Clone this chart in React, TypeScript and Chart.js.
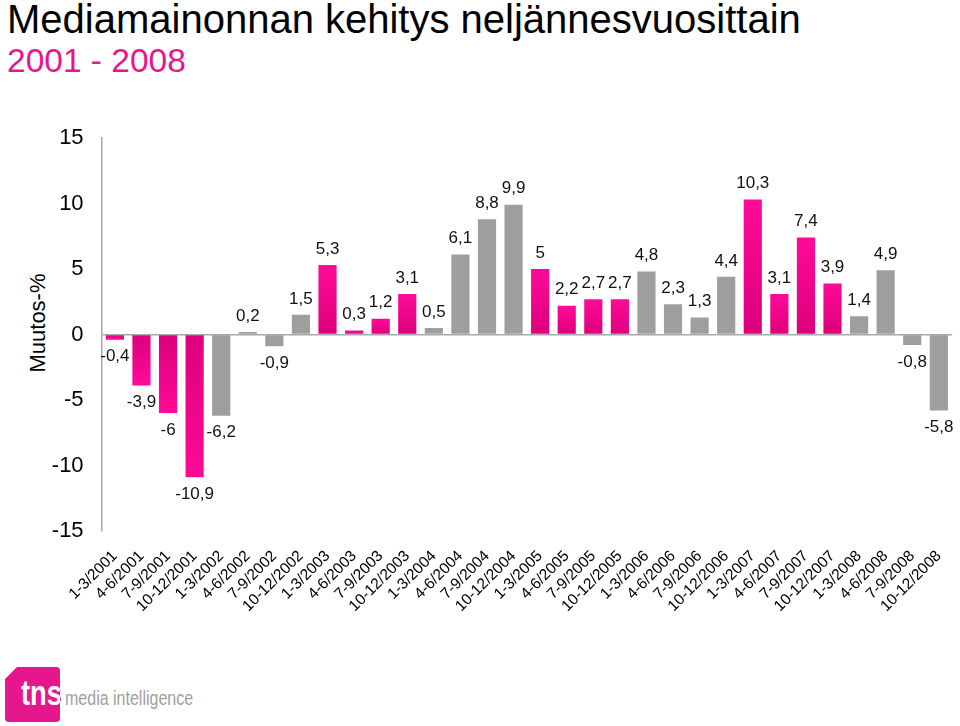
import React, { useEffect, useRef } from "react";
import { Chart, registerables } from "chart.js";

Chart.register(...registerables);

const categories = [
  "1-3/2001", "4-6/2001", "7-9/2001", "10-12/2001",
  "1-3/2002", "4-6/2002", "7-9/2002", "10-12/2002",
  "1-3/2003", "4-6/2003", "7-9/2003", "10-12/2003",
  "1-3/2004", "4-6/2004", "7-9/2004", "10-12/2004",
  "1-3/2005", "4-6/2005", "7-9/2005", "10-12/2005",
  "1-3/2006", "4-6/2006", "7-9/2006", "10-12/2006",
  "1-3/2007", "4-6/2007", "7-9/2007", "10-12/2007",
  "1-3/2008", "4-6/2008", "7-9/2008", "10-12/2008",
];

const values = [
  -0.4, -3.9, -6, -10.9,
  -6.2, 0.2, -0.9, 1.5,
  5.3, 0.3, 1.2, 3.1,
  0.5, 6.1, 8.8, 9.9,
  5, 2.2, 2.7, 2.7,
  4.8, 2.3, 1.3, 4.4,
  10.3, 3.1, 7.4, 3.9,
  1.4, 4.9, -0.8, -5.8,
];

// true = pink year, false = grey year
const pinkYears = [true, false, true, false, true, false, true, false];

const yTicks = [-15, -10, -5, 0, 5, 10, 15];

const FONT = "'Liberation Sans', Arial, Helvetica, sans-serif";
const GREY = "#9e9e9e";
const AXIS = "#a8a8a8";

export default function App() {
  const canvasRef = useRef<HTMLCanvasElement | null>(null);

  useEffect(() => {
    if (!canvasRef.current) return;

    const labelPlugin = {
      id: "valueLabels",
      afterDatasetsDraw(chart: any) {
        const ctx = chart.ctx;
        const meta = chart.getDatasetMeta(0);
        ctx.save();
        ctx.font = `17px ${FONT}`;
        ctx.fillStyle = "#111";
        ctx.textAlign = "center";
        ctx.textBaseline = "middle";
        meta.data.forEach((bar: any, i: number) => {
          const v = values[i];
          const txt = String(v).replace(".", ",");
          const y = v >= 0 ? bar.y - 16 : bar.y + 17;
          ctx.fillText(txt, bar.x, y);
        });
        ctx.restore();
      },
    };

    const chart = new Chart(canvasRef.current, {
      type: "bar",
      data: {
        labels: categories,
        datasets: [
          {
            data: values,
            categoryPercentage: 1,
            barPercentage: 0.684,
            backgroundColor: (c: any) => {
              const i = c.dataIndex;
              const pink = pinkYears[Math.floor(i / 4)];
              if (!pink) return GREY;
              const ch = c.chart;
              const ys = ch.scales && ch.scales.y;
              if (!ys || c.parsed === undefined) return "#ee0a8c";
              const v = values[i];
              const y0 = ys.getPixelForValue(0);
              const y1 = ys.getPixelForValue(v);
              if (!isFinite(y0) || !isFinite(y1) || y0 === y1) return "#ee0a8c";
              const g = ch.ctx.createLinearGradient(0, y1, 0, y0);
              g.addColorStop(0, "#ff0a98");
              g.addColorStop(1, "#dc007c");
              return g;
            },
            borderWidth: 0,
          },
        ],
      },
      options: {
        responsive: false,
        animation: false,
        layout: { padding: { top: 38, right: 1.6, left: 0, bottom: 0 } },
        plugins: {
          legend: { display: false },
          tooltip: { enabled: false },
          title: { display: false },
        },
        scales: {
          x: {
            grid: { display: false },
            border: { display: false },
            ticks: {
              autoSkip: false,
              maxRotation: 45,
              minRotation: 45,
              padding: 8,
              color: "#000",
              font: { family: FONT, size: 15.5 },
            },
            afterFit: (s: any) => {
              s.height = 129;
            },
          },
          y: {
            min: -15,
            max: 15,
            afterBuildTicks: (s: any) => {
              s.ticks = yTicks.map((v) => ({ value: v }));
            },
            ticks: {
              padding: 18,
              color: "#000",
              font: { family: FONT, size: 22 },
              callback: (v: any) => String(v),
            },
            grid: {
              drawTicks: false,
              color: (c: any) => (c.tick && c.tick.value === 0 ? AXIS : "rgba(0,0,0,0)"),
              lineWidth: 1.5,
            },
            border: { display: true, color: AXIS, width: 1.5 },
            afterFit: (s: any) => {
              s.width = 101.6;
            },
          },
        },
      },
      plugins: [labelPlugin],
    } as any);

    return () => chart.destroy();
  }, []);

  return (
    <div
      style={{
        position: "absolute",
        left: 0,
        top: 0,
        width: 960,
        height: 726,
        background: "#fff",
        overflow: "hidden",
        fontFamily: FONT,
      }}
    >
      <div
        style={{
          position: "absolute",
          left: 7,
          top: -1,
          fontSize: 40,
          lineHeight: "40px",
          color: "#000",
          whiteSpace: "nowrap",
        }}
      >
        Mediamainonnan kehitys neljännesvuosittain
      </div>
      <div
        style={{
          position: "absolute",
          left: 7,
          top: 44,
          fontSize: 33.5,
          lineHeight: "33.5px",
          color: "#e6168c",
          whiteSpace: "nowrap",
        }}
      >
        2001 - 2008
      </div>
      <div
        style={{
          position: "absolute",
          left: 38,
          top: 323,
          transform: "translate(-50%, -50%) rotate(-90deg)",
          fontSize: 22,
          lineHeight: "22px",
          color: "#000",
          whiteSpace: "nowrap",
        }}
      >
        Muutos-%
      </div>
      <canvas
        ref={canvasRef}
        width={960}
        height={560}
        style={{ position: "absolute", left: 0, top: 100, width: 960, height: 560 }}
      />
      {/* logo */}
      <div style={{ position: "absolute", left: 5, top: 667, width: 60, height: 56 }}>
        <div
          style={{
            position: "absolute",
            left: 16,
            top: 8,
            fontSize: 35,
            fontWeight: "bold",
            color: "#e6168c",
            lineHeight: "35px",
            whiteSpace: "nowrap",
            transform: "scaleX(0.78)",
            transformOrigin: "left top",
          }}
        >
          tns
        </div>
        <div
          style={{
            position: "absolute",
            left: 0,
            top: 0,
            width: 55,
            height: 55,
            background: "#e6168c",
            clipPath: "polygon(12px 0, 100% 0, 100% 100%, 0 100%, 0 12px)",
            borderRadius: "0 4px 4px 4px",
            overflow: "hidden",
          }}
        >
          <div
            style={{
              position: "absolute",
              left: 16,
              top: 8,
              fontSize: 35,
              fontWeight: "bold",
              color: "#fff",
              lineHeight: "35px",
              whiteSpace: "nowrap",
              transform: "scaleX(0.78)",
              transformOrigin: "left top",
            }}
          >
            tns
          </div>
        </div>
      </div>
      <div
        style={{
          position: "absolute",
          left: 65,
          top: 688,
          fontSize: 20,
          lineHeight: "20px",
          color: "#a0a0a0",
          whiteSpace: "nowrap",
          transform: "scaleX(0.8)",
          transformOrigin: "left top",
        }}
      >
        media intelligence
      </div>
    </div>
  );
}
